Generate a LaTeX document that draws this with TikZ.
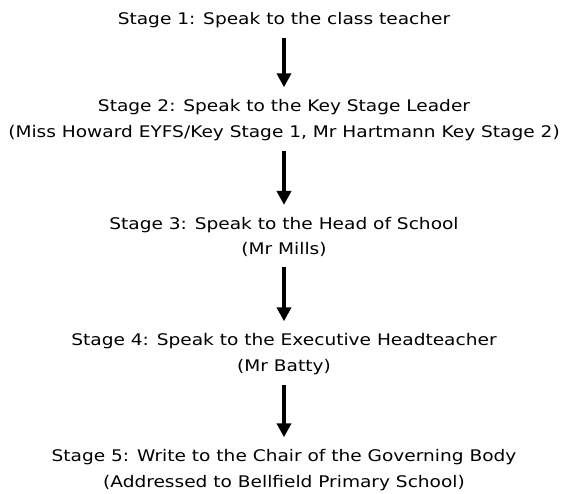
\documentclass[tikz,border=0pt]{standalone}
\usepackage{fontspec}
\setmainfont{DejaVu Sans}[FakeStretch=1.16]
\usetikzlibrary{arrows.meta,positioning}

\begin{document}
\begin{tikzpicture}
	[x=1pt,y=1pt,
		stage node/.style={align=center,inner sep=0pt,font=\fontsize{16}{25.5}\selectfont},
		step arrow/.style={-{Triangle[width=14pt,length=14pt]},line width=3.5pt,shorten <=10pt,shorten >=12pt}]

	\useasboundingbox (0,0) rectangle (568,-493);

	\node[stage node] (S1) at (284,-20)  {Stage 1: Speak to the class teacher};
	\node[stage node] (S2) at (284,-120) {Stage 2: Speak to the Key Stage Leader\\(Miss Howard EYFS/Key Stage 1, Mr Hartmann Key Stage 2)};
	\node[stage node] (S3) at (284,-237) {Stage 3: Speak to the Head of School\\(Mr Mills)};
	\node[stage node] (S4) at (284,-354) {Stage 4: Speak to the Executive Headteacher\\(Mr Batty)};
	\node[stage node] (S5) at (284,-470) {Stage 5: Write to the Chair of the Governing Body\\(Addressed to Bellfield Primary School)};

	\path[step arrow]
	(S1) edge (S2)
	(S2) edge (S3)
	(S3) edge (S4)
	(S4) edge (S5)
	;

\end{tikzpicture}
\end{document}
